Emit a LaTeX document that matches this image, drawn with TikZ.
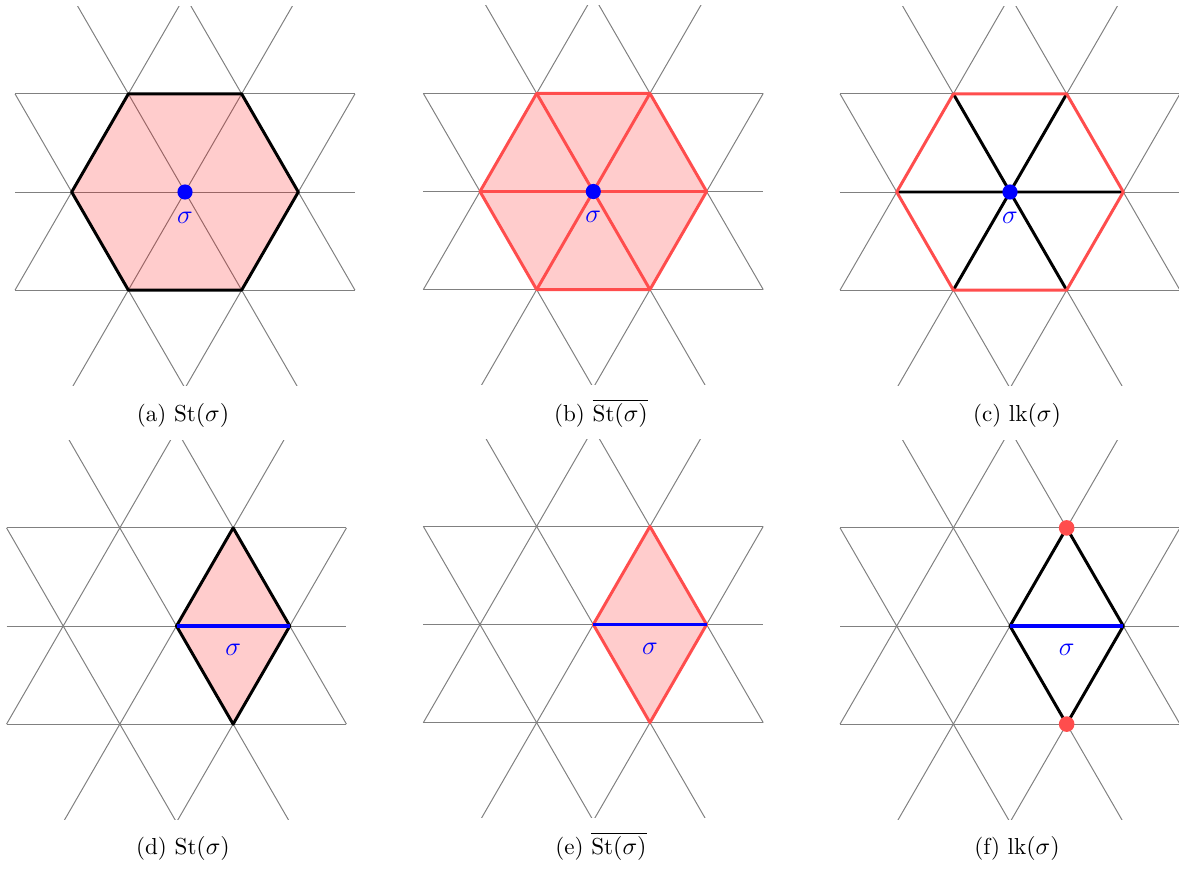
\documentclass[tikz,border=0pt]{standalone}
\definecolor{lred}{RGB}{255,77,77}
\tikzset{
  gridline/.style={draw=gray, line width=0.45pt},
  stfill/.style={fill=red, fill opacity=0.2},
  blackedge/.style={draw=black, line width=1.35pt, line join=round},
  rededge/.style={draw=lred, line width=1.35pt, line join=round},
  sigedge/.style={draw=blue, line width=1.5pt},
  bdot/.style={circle, fill=blue, inner sep=0pt, minimum size=6.9pt},
  rdot/.style={circle, fill=lred, inner sep=0pt, minimum size=7.1pt},
  siglabel/.style={text=blue, inner sep=0pt, font=\fontsize{12}{14}\selectfont},
  caption/.style={anchor=base, inner sep=0pt, font=\fontsize{10.5}{12.5}\selectfont}
}
% triangular grid (hexagram of lines) around the origin of the current scope
\newcommand{\trigrid}{%
  \begin{scope}
    \clip (-176,-185.5) rectangle (176,193);
    \draw[gridline] (-169.95,-98.1) -- (169.95,-98.1);
    \draw[gridline] (-169.95,0) -- (169.95,0);
    \draw[gridline] (-169.95,98.1) -- (169.95,98.1);
    \draw[gridline] (-169.95,98.1) -- (0,-196.2) -- (169.95,98.1);
    \draw[gridline] (-169.95,-98.1) -- (0,196.2) -- (169.95,-98.1);
    \draw[gridline] (-113.3,-196.2) -- (113.3,196.2);
    \draw[gridline] (113.3,-196.2) -- (-113.3,196.2);
  \end{scope}}
% hexagon corner coordinates
\newcommand{\hexcoords}[1]{%
  \coordinate (#1c) at (0,0);
  \coordinate (#11) at (-113.3,0);
  \coordinate (#12) at (-56.65,-98.1);
  \coordinate (#13) at (56.65,-98.1);
  \coordinate (#14) at (113.3,0);
  \coordinate (#15) at (56.65,98.1);
  \coordinate (#16) at (-56.65,98.1);}
% rhombus coordinates (edge sigma from #1l to #1r)
\newcommand{\rhocoords}[1]{%
  \coordinate (#1l) at (0,0);
  \coordinate (#1r) at (113.3,0);
  \coordinate (#1t) at (56.65,-98.1);
  \coordinate (#1b) at (56.65,98.1);}
\begin{document}
\begin{tikzpicture}[x=0.4545pt, y=-0.4545pt]
\useasboundingbox (0,0) rectangle (1179,868);

% (a)
\begin{scope}[shift={(185,192)}]
  \trigrid
  \hexcoords{a}
  \fill[stfill] (a1) -- (a2) -- (a3) -- (a4) -- (a5) -- (a6) -- cycle;
  \draw[blackedge] (a1) -- (a2) -- (a3) -- (a4) -- (a5) -- (a6) -- cycle;
  \node[bdot] (av) at (ac) {};
  \node[siglabel] (as) at (0,26) {$\sigma$};
\end{scope}
\node[caption] (acap) at (183,421.5) {(a) St$(\sigma)$};

% (b)
\begin{scope}[shift={(593.3,191.5)}]
  \trigrid
  \hexcoords{b}
  \fill[stfill] (b1) -- (b2) -- (b3) -- (b4) -- (b5) -- (b6) -- cycle;
  \draw[rededge] (b1) -- (b4) (b2) -- (b5) (b3) -- (b6);
  \draw[rededge] (b1) -- (b2) -- (b3) -- (b4) -- (b5) -- (b6) -- cycle;
  \node[bdot] (bv) at (bc) {};
  \node[siglabel] (bs) at (0,25) {$\sigma$};
\end{scope}
\node[caption] (bcap) at (601,421.5) {(b) $\overline{\mbox{St}(\sigma)}$};

% (c)
\begin{scope}[shift={(1010,192)}]
  \trigrid
  \hexcoords{c}
  \draw[blackedge] (c1) -- (c4) (c2) -- (c5) (c3) -- (c6);
  \draw[rededge] (c1) -- (c2) -- (c3) -- (c4) -- (c5) -- (c6) -- cycle;
  \node[bdot] (cv) at (cc) {};
  \node[siglabel] (cs) at (0,26) {$\sigma$};
\end{scope}
\node[caption] (ccap) at (1017,421.5) {(c) lk$(\sigma)$};

% (d)
\begin{scope}[shift={(176.5,626)}]
  \trigrid
  \rhocoords{d}
  \fill[stfill] (dl) -- (dt) -- (dr) -- (db) -- cycle;
  \draw[blackedge] (dl) -- (dt) -- (dr) -- (db) -- cycle;
  \draw[sigedge] (dl) -- (dr);
  \node[siglabel] (ds) at (56.65,24) {$\sigma$};
\end{scope}
\node[caption] (dcap) at (183,854.5) {(d) St$(\sigma)$};

% (e)
\begin{scope}[shift={(593.3,624.5)}]
  \trigrid
  \rhocoords{e}
  \fill[stfill] (el) -- (et) -- (er) -- (eb) -- cycle;
  \draw[rededge] (el) -- (et) -- (er) -- (eb) -- cycle;
  \draw[sigedge] (el) -- (er);
  \node[siglabel] (es) at (56.65,24) {$\sigma$};
\end{scope}
\node[caption] (ecap) at (601,854.5) {(e) $\overline{\mbox{St}(\sigma)}$};

% (f)
\begin{scope}[shift={(1010,626)}]
  \trigrid
  \rhocoords{f}
  \draw[blackedge] (fl) -- (ft) -- (fr) -- (fb) -- cycle;
  \draw[sigedge] (fl) -- (fr);
  \node[rdot] (ftd) at (ft) {};
  \node[rdot] (fbd) at (fb) {};
  \node[siglabel] (fs) at (56.65,24) {$\sigma$};
\end{scope}
\node[caption] (fcap) at (1017,854.5) {(f) lk$(\sigma)$};
\end{tikzpicture}
\end{document}
